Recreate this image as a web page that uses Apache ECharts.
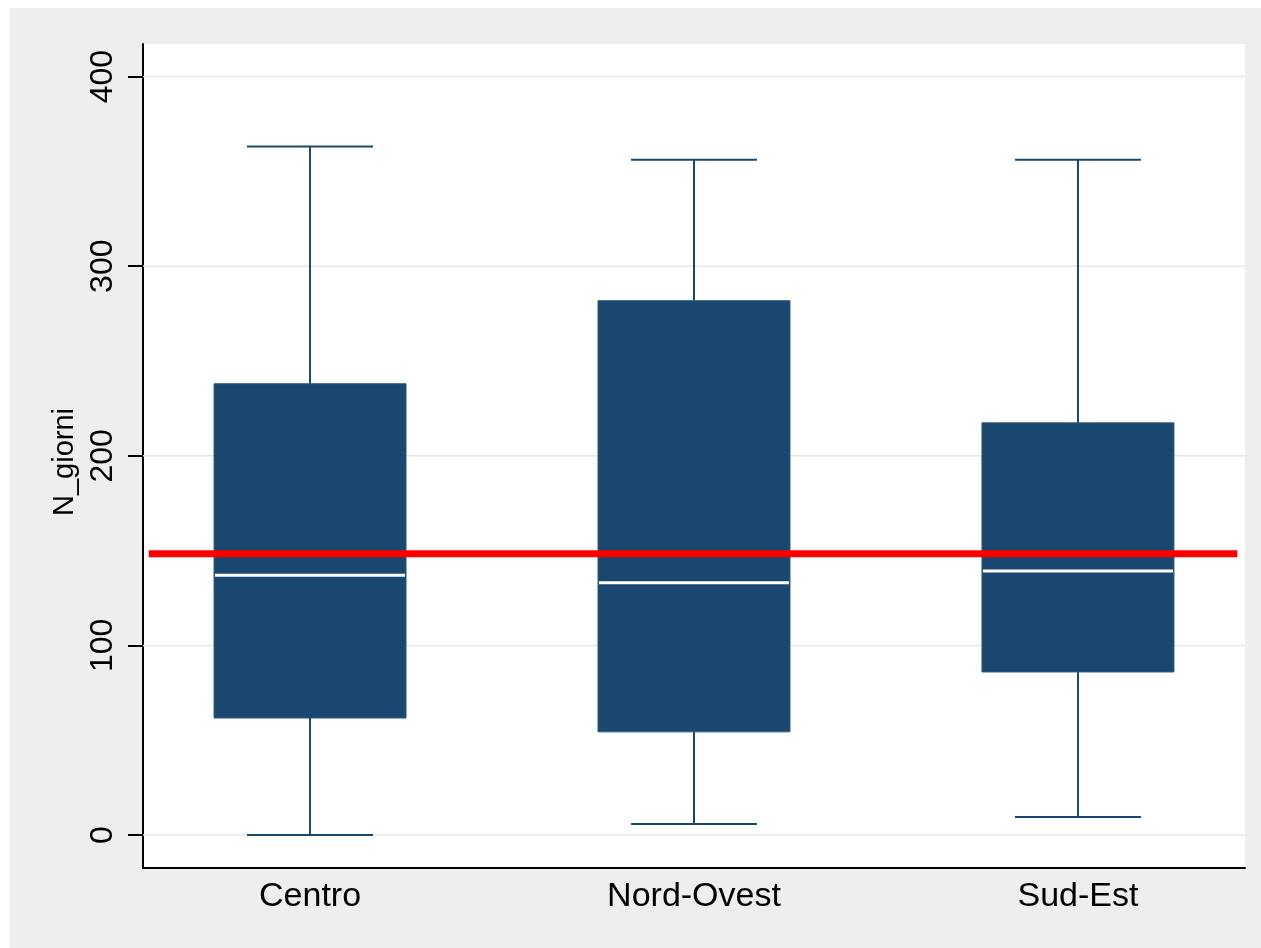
<!DOCTYPE html>
<html><head><meta charset="utf-8">
<script src="https://cdn.jsdelivr.net/npm/echarts@6/dist/echarts.min.js"></script>
<style>html,body{margin:0;padding:0;background:#fff}#c{width:1261px;height:948px}</style>
</head><body><div id="c"></div>
<script>
const categories = ['Centro', 'Nord-Ovest', 'Sud-Est'];
const lowerWhisker = [0, 5.8, 9.5];
const q1 = [61.7, 54.4, 86.0];
const median = [137.0, 133.0, 139.3];
const q3 = [238.0, 281.8, 217.4];
const upperWhisker = [363.1, 356.2, 356.2];
const yTicks = [0, 100, 200, 300, 400];
const referenceLine = 148.3;
const yMin = -17.4, yMax = 417.2;
const xMin = -0.435, xMax = 2.435;
const refLineFrom = -0.42, refLineTo = 2.415;

const boxData = categories.map((c, i) => [i, lowerWhisker[i], q1[i], median[i], q3[i], upperWhisker[i]]);
const FONT = "'Liberation Sans', Arial, sans-serif";
const NAVY = '#1a476f';

const chart = echarts.init(document.getElementById('c'), null, {renderer: 'canvas'});
chart.setOption({
  backgroundColor: '#ffffff',
  animation: false,
  graphic: [{type: 'rect', z: -10, silent: true, shape: {x: 10, y: 8, width: 1251, height: 940}, style: {fill: '#eeeeee'}}],
  grid: [
    {left: 143, top: 44, width: 1102, bottom: 80, show: true, backgroundColor: '#ffffff', borderWidth: 0}
  ],
  xAxis: [
    {type: 'value', min: xMin, max: xMax,
     axisLine: {show: true, onZero: false, lineStyle: {color: '#000', width: 2}},
     axisTick: {show: false}, splitLine: {show: false},
     axisLabel: {customValues: [0, 1, 2], formatter: v => categories[Math.round(v)] || '',
       fontSize: 34, margin: 12, color: '#000', fontFamily: FONT}}
  ],
  yAxis: [
    {type: 'value', min: yMin, max: yMax,
     axisLine: {show: true, onZero: false, lineStyle: {color: '#000', width: 2}},
     axisTick: {show: true, customValues: yTicks, length: 15, lineStyle: {color: '#000', width: 2}},
     axisLabel: {customValues: yTicks, rotate: 90, fontSize: 32, margin: 24, color: '#000', fontFamily: FONT},
     splitLine: {show: false},
     name: 'N_giorni', nameLocation: 'middle', nameRotate: 90, nameGap: 62,
     nameTextStyle: {fontSize: 29, color: '#000', fontFamily: FONT, padding: [0, 12, 0, 0]}}
  ],
  series: [
    {type: 'custom', z: 1, silent: true, data: yTicks.map(v => [v]),
     renderItem: function (params, api) {
       const y = api.coord([xMin, api.value(0)])[1];
       const xa = api.coord([xMin, 0])[0], xb = api.coord([xMax, 0])[0];
       return {type: 'line', shape: {x1: xa, y1: y, x2: xb, y2: y}, style: {stroke: '#e6e6e6', lineWidth: 1.5}};
     }},
    {type: 'custom', z: 3, data: boxData,
     renderItem: function (params, api) {
       const i = api.value(0);
       const x = api.coord([i, 0])[0];
       const band = api.size([1, 0])[0];
       const hw = band * 0.25, cw = band * 0.164;
       const yl = api.coord([i, api.value(1)])[1];
       const y1 = api.coord([i, api.value(2)])[1];
       const ym = api.coord([i, api.value(3)])[1];
       const y3 = api.coord([i, api.value(4)])[1];
       const yh = api.coord([i, api.value(5)])[1];
       const ws = {stroke: NAVY, lineWidth: 2};
       return {type: 'group', children: [
         {type: 'line', shape: {x1: x, y1: yl, x2: x, y2: y1}, style: ws},
         {type: 'line', shape: {x1: x, y1: y3, x2: x, y2: yh}, style: ws},
         {type: 'line', shape: {x1: x - cw, y1: yl, x2: x + cw, y2: yl}, style: ws},
         {type: 'line', shape: {x1: x - cw, y1: yh, x2: x + cw, y2: yh}, style: ws},
         {type: 'rect', shape: {x: x - hw, y: y3, width: 2 * hw, height: y1 - y3}, style: {fill: NAVY, stroke: '#2c5a80', lineWidth: 1}},
         {type: 'line', shape: {x1: x - hw + 1, y1: ym, x2: x + hw - 1, y2: ym}, style: {stroke: '#ffffff', lineWidth: 3}}
       ]};
     }},
    {type: 'line', z: 5, silent: true, symbol: 'none',
     lineStyle: {color: '#ff0000', width: 7},
     data: [[refLineFrom, referenceLine], [refLineTo, referenceLine]]}
  ]
});
</script></body></html>
